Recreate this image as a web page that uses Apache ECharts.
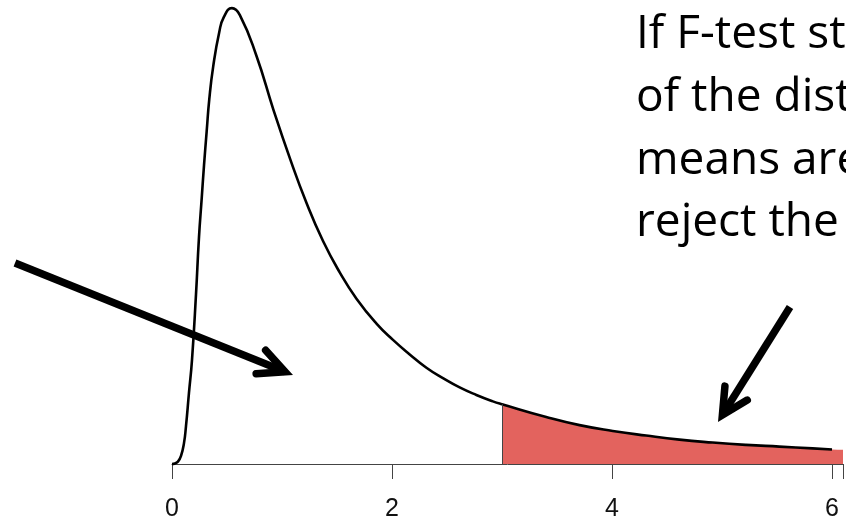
<!DOCTYPE html>
<html>
<head>
<meta charset="utf-8">
<script src="https://cdn.jsdelivr.net/npm/echarts@6/dist/echarts.min.js"></script>
<style>
  html, body { margin: 0; padding: 0; background: #fff; }
  #chart { width: 846px; height: 522px; }
</style>
</head>
<body>
<div id="chart"></div>
<script>
// F density curve, sampled along x
const densityX = [0, 0.027, 0.054, 0.082, 0.109, 0.127, 0.154, 0.182, 0.218, 0.245, 0.270, 0.291, 0.315, 0.339, 0.375, 0.429, 0.472, 0.545, 0.617, 0.769, 0.920, 1.072, 1.223, 1.374, 1.526, 1.677, 1.859, 2.009, 2.161, 2.313, 2.463, 2.615, 2.767, 2.917, 3.0, 3.402, 3.705, 4.007, 4.310, 4.613, 4.915, 5.218, 5.521, 5.823, 6.0, 6.2];
const densityY = [0, 0.001, 0.004, 0.014, 0.036, 0.065, 0.122, 0.180, 0.292, 0.390, 0.458, 0.515, 0.573, 0.629, 0.686, 0.744, 0.771, 0.786, 0.774, 0.703, 0.612, 0.527, 0.450, 0.384, 0.330, 0.285, 0.242, 0.214, 0.189, 0.166, 0.148, 0.132, 0.119, 0.108, 0.103, 0.081, 0.067, 0.057, 0.049, 0.042, 0.037, 0.033, 0.030, 0.027, 0.025, 0.024];

// critical value where the rejection region begins, and where the drawn curve stops
const criticalValue = 3;
const curveEnd = 6;

const xTicks = [0, 2, 4, 6];

const noteLines = ['If F-test statistic', 'of the distribution', 'means are different', 'reject the null'];

const points = densityX.map((x, i) => [x, densityY[i]]);
const curvePoints = points.filter(p => p[0] <= curveEnd);
const tailPoints = points.filter(p => p[0] >= criticalValue);
const critHeight = densityY[densityX.indexOf(criticalValue)];

// chevron arrow: shaft plus open head
function arrow(tail, tip, armLen, spread, w) {
  const dx = tip[0] - tail[0], dy = tip[1] - tail[1];
  const len = Math.hypot(dx, dy);
  const ux = dx / len, uy = dy / len;
  const back = (w / 2) / Math.sin(spread);
  const g = [tip[0] - ux * back, tip[1] - uy * back];
  const ang = Math.atan2(-uy, -ux);
  const a1 = [g[0] + armLen * Math.cos(ang + spread), g[1] + armLen * Math.sin(ang + spread)];
  const a2 = [g[0] + armLen * Math.cos(ang - spread), g[1] + armLen * Math.sin(ang - spread)];
  return [
    { type: 'polyline', z: 100, shape: { points: [tail, g] }, style: { stroke: '#000', lineWidth: w, fill: null, lineCap: 'butt' } },
    { type: 'polyline', z: 100, shape: { points: [a1, g, a2] }, style: { stroke: '#000', lineWidth: w, fill: null, lineJoin: 'miter', lineCap: 'round' } }
  ];
}

const textEls = noteLines.map((t, i) => ({
  type: 'text',
  left: 636,
  top: 12 + i * 62.7,
  z: 100,
  style: { text: t, fill: '#000', font: '46px "Open Sans"', textAlign: 'left' }
}));

const chart = echarts.init(document.getElementById('chart'), null, { renderer: 'canvas' });
chart.setOption({
  animation: false,
  backgroundColor: '#fff',
  grid: { left: 172, right: 0, top: 0, bottom: 54 },
  xAxis: {
    type: 'value',
    min: 0,
    max: 6.1,
    interval: 2,
    splitLine: { show: false },
    axisLine: { show: true, onZero: false, lineStyle: { color: '#444', width: 1 } },
    axisTick: { show: true, length: 15, lineStyle: { color: '#444', width: 1 } },
    axisLabel: {
      margin: 33,
      color: '#111',
      fontSize: 25,
      fontFamily: '"Liberation Sans Narrow", "Liberation Sans", sans-serif',
      showMaxLabel: true,
      formatter: v => (xTicks.indexOf(v) >= 0 ? String(v) : '')
    }
  },
  yAxis: {
    type: 'value',
    min: 0,
    max: 0.8,
    show: false,
    splitLine: { show: false }
  },
  series: [
    {
      type: 'line',
      data: tailPoints,
      symbol: 'none',
      smooth: 0.5,
      lineStyle: { width: 0 },
      areaStyle: { color: '#E3635E', opacity: 1 },
      z: 2,
      markLine: {
        silent: true,
        symbol: 'none',
        label: { show: false },
        lineStyle: { color: '#444', width: 1, type: 'solid' },
        data: [[{ coord: [criticalValue, 0] }, { coord: [criticalValue, critHeight] }]]
      }
    },
    {
      type: 'line',
      data: curvePoints,
      symbol: 'none',
      smooth: 0.5,
      clip: false,
      lineStyle: { color: '#000', width: 2.6 },
      z: 3
    }
  ],
  graphic: [].concat(
    arrow([15, 263], [293, 375], 29, 26 * Math.PI / 180, 7.5),
    arrow([790, 307], [718, 422], 29, 27 * Math.PI / 180, 7.5),
    textEls
  )
});
</script>
</body>
</html>
